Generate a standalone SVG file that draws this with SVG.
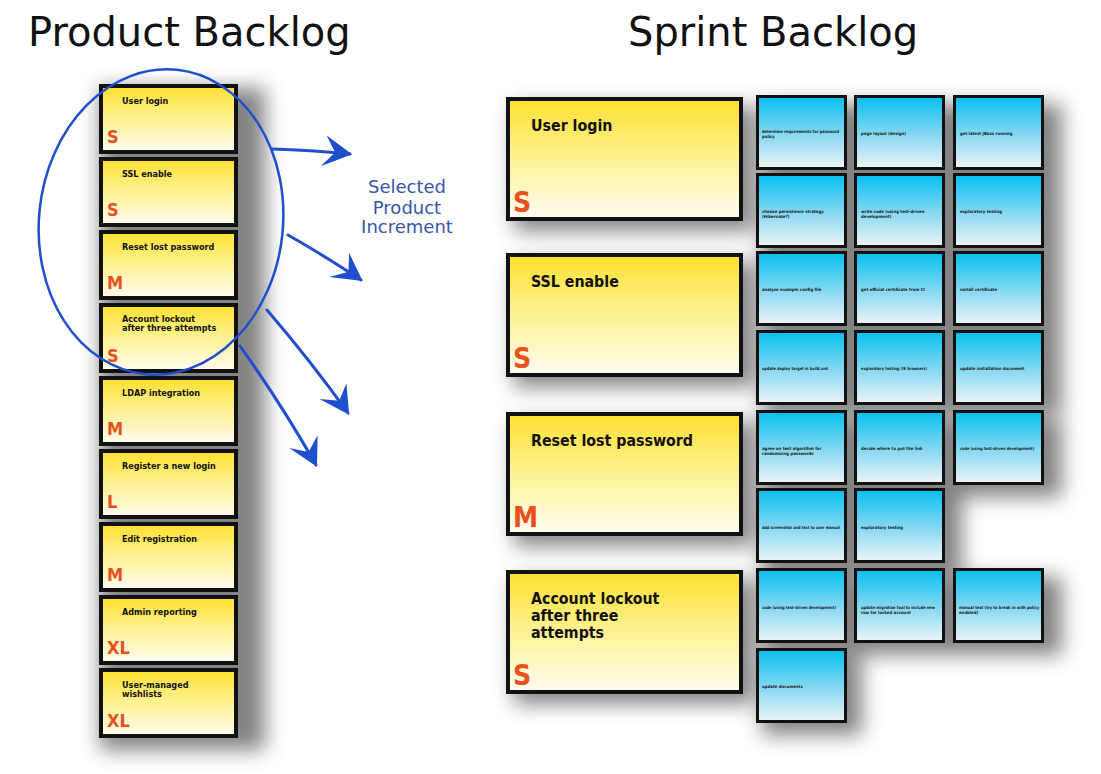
<svg xmlns="http://www.w3.org/2000/svg" width="1101" height="774" viewBox="0 0 1101 774">
<defs>
<linearGradient id="gy" x1="0" y1="0" x2="0" y2="1">
<stop offset="0" stop-color="#ffe02e"/><stop offset="0.45" stop-color="#fff08a"/><stop offset="1" stop-color="#fffcf2"/>
</linearGradient>
<linearGradient id="gb" x1="0" y1="0" x2="0" y2="1">
<stop offset="0" stop-color="#05bff0"/><stop offset="0.55" stop-color="#8ad9f2"/><stop offset="1" stop-color="#eef5f7"/>
</linearGradient>
<filter id="blur" x="-40%" y="-40%" width="180%" height="180%"><feGaussianBlur stdDeviation="10"/></filter>
<marker id="ah" markerUnits="userSpaceOnUse" markerWidth="40" markerHeight="40" viewBox="-32 -20 36 40" refX="0" refY="0" orient="auto">
<path d="M2,0 L-25,-16 L-15,0 L-28,15 Z" fill="#1f4fcc"/>
</marker>
<style>
.title{font-family:"DejaVu Sans",Verdana,sans-serif;font-size:40px;fill:#111}
.card{stroke:#111;stroke-width:4;fill:url(#gy)}
.task{stroke:#111;stroke-width:3;fill:url(#gb)}
.st{font-family:"DejaVu Sans Condensed","DejaVu Sans",sans-serif;font-weight:bold;font-size:9px;fill:#111}
.ss{font-family:"DejaVu Sans Condensed","DejaVu Sans",sans-serif;font-weight:bold;font-size:18px;fill:#e8501e}
.bt{font-family:"DejaVu Sans Condensed","DejaVu Sans",sans-serif;font-weight:bold;font-size:15.8px;fill:#111}
.bs{font-family:"DejaVu Sans Condensed","DejaVu Sans",sans-serif;font-weight:bold;font-size:28px;fill:#e8501e}
.tt{font-family:"DejaVu Sans Condensed","DejaVu Sans",sans-serif;font-weight:bold;font-size:4.3px;fill:#1a1a1a}
.lab{font-family:"DejaVu Sans",Verdana,sans-serif;font-size:18px;fill:#3856a8;text-anchor:middle}
.ln{stroke:#1f4fcc;stroke-width:3;fill:none;stroke-linecap:round}
</style>
</defs>
<rect width="1101" height="774" fill="#ffffff"/>

<text class="title" x="28" y="46">Product Backlog</text>
<text class="title" x="628" y="46">Sprint Backlog</text>

<g id="shadows" filter="url(#blur)" fill="#5a5a5a" opacity="0.75">
<rect x="100" y="88" width="165" height="662"/>
<rect x="514" y="106" width="240" height="125"/>
<rect x="514" y="262" width="240" height="125"/>
<rect x="514" y="421" width="240" height="125"/>
<rect x="514" y="579" width="240" height="125"/>
<rect x="762" y="104" width="300" height="310"/>
<rect x="762" y="419" width="300" height="78"/>
<rect x="762" y="497" width="200" height="78"/>
<rect x="762" y="577" width="300" height="78"/>
<rect x="762" y="657" width="100" height="78"/>
</g>

<g id="pb-1"><rect class="card" x="101" y="86" width="135" height="66"/><text class="st" x="122" y="104">User login</text><text class="ss" x="107" y="143">S</text></g>
<g id="pb-2"><rect class="card" x="101" y="159" width="135" height="66"/><text class="st" x="122" y="177">SSL enable</text><text class="ss" x="107" y="216">S</text></g>
<g id="pb-3"><rect class="card" x="101" y="232" width="135" height="66"/><text class="st" x="122" y="250">Reset lost password</text><text class="ss" x="107" y="289">M</text></g>
<g id="pb-4"><rect class="card" x="101" y="305" width="135" height="66"/><text class="st" x="122" y="322">Account lockout</text><text class="st" x="122" y="331">after three attempts</text><text class="ss" x="107" y="362">S</text></g>
<g id="pb-5"><rect class="card" x="101" y="378" width="135" height="66"/><text class="st" x="122" y="396">LDAP integration</text><text class="ss" x="107" y="435">M</text></g>
<g id="pb-6"><rect class="card" x="101" y="451" width="135" height="66"/><text class="st" x="122" y="469">Register a new login</text><text class="ss" x="107" y="508">L</text></g>
<g id="pb-7"><rect class="card" x="101" y="524" width="135" height="66"/><text class="st" x="122" y="542">Edit registration</text><text class="ss" x="107" y="581">M</text></g>
<g id="pb-8"><rect class="card" x="101" y="597" width="135" height="66"/><text class="st" x="122" y="615">Admin reporting</text><text class="ss" x="107" y="654">XL</text></g>
<g id="pb-9"><rect class="card" x="101" y="670" width="135" height="66"/><text class="st" x="122" y="688">User-managed</text><text class="st" x="122" y="697">wishlists</text><text class="ss" x="107" y="727">XL</text></g>

<g id="selection">
<ellipse cx="161" cy="222" rx="122" ry="153" transform="rotate(6 161 222)" fill="none" stroke="#1f4fcc" stroke-width="2.5"/>
</g>

<g id="connectors">
<path class="ln" d="M272,149 Q310,150 350,154" marker-end="url(#ah)"/>
<path class="ln" d="M288,235 Q325,256 361,280" marker-end="url(#ah)"/>
<path class="ln" d="M267,310 Q310,360 348,413" marker-end="url(#ah)"/>
<path class="ln" d="M240,346 Q282,405 316,465" marker-end="url(#ah)"/>
</g>

<g id="label">
<text class="lab" x="407" y="193">Selected</text>
<text class="lab" x="407" y="214">Product</text>
<text class="lab" x="407" y="233">Increment</text>
</g>

<g id="story-1"><rect class="card" x="508" y="99" width="233" height="120"/><text class="bt" x="531" y="131">User login</text><text class="bs" x="513" y="212">S</text></g>
<g id="story-2"><rect class="card" x="508" y="255" width="233" height="120"/><text class="bt" x="531" y="287">SSL enable</text><text class="bs" x="513" y="368">S</text></g>
<g id="story-3"><rect class="card" x="508" y="414" width="233" height="120"/><text class="bt" x="531" y="446">Reset lost password</text><text class="bs" x="513" y="527">M</text></g>
<g id="story-4"><rect class="card" x="508" y="572" width="233" height="120"/><text class="bt" x="531" y="604">Account lockout</text><text class="bt" x="531" y="621">after three</text><text class="bt" x="531" y="638">attempts</text><text class="bs" x="513" y="685">S</text></g>

<g id="t-1-1"><rect class="task" x="757.5" y="96.5" width="88" height="72"/><text class="tt" x="762" y="133" textLength="77" lengthAdjust="spacingAndGlyphs">determine requirements for password</text><text class="tt" x="762" y="138">policy</text></g>
<g id="t-1-2"><rect class="task" x="855.5" y="96.5" width="88" height="72"/><text class="tt" x="861" y="135">page layout (design)</text></g>
<g id="t-1-3"><rect class="task" x="954.5" y="96.5" width="88" height="72"/><text class="tt" x="960" y="135">get latest JBoss running</text></g>
<g id="t-2-1"><rect class="task" x="757.5" y="174.5" width="88" height="72"/><text class="tt" x="762" y="213">choose persistence strategy</text><text class="tt" x="762" y="218">(Hibernate?)</text></g>
<g id="t-2-2"><rect class="task" x="855.5" y="174.5" width="88" height="72"/><text class="tt" x="861" y="213">write code (using test-driven</text><text class="tt" x="861" y="218">development)</text></g>
<g id="t-2-3"><rect class="task" x="954.5" y="174.5" width="88" height="72"/><text class="tt" x="960" y="213">exploratory testing</text></g>
<g id="t-3-1"><rect class="task" x="757.5" y="252.5" width="88" height="72"/><text class="tt" x="762" y="291">analyze example config file</text></g>
<g id="t-3-2"><rect class="task" x="855.5" y="252.5" width="88" height="72"/><text class="tt" x="861" y="291">get official certificate from CI</text></g>
<g id="t-3-3"><rect class="task" x="954.5" y="252.5" width="88" height="72"/><text class="tt" x="960" y="291">install certificate</text></g>
<g id="t-4-1"><rect class="task" x="757.5" y="331.5" width="88" height="72"/><text class="tt" x="762" y="370" textLength="66" lengthAdjust="spacingAndGlyphs">update deploy target in build.xml</text></g>
<g id="t-4-2"><rect class="task" x="855.5" y="331.5" width="88" height="72"/><text class="tt" x="861" y="370" textLength="66" lengthAdjust="spacingAndGlyphs">exploratory testing (IE browsers)</text></g>
<g id="t-4-3"><rect class="task" x="954.5" y="331.5" width="88" height="72"/><text class="tt" x="960" y="370">update installation document</text></g>
<g id="t-5-1"><rect class="task" x="757.5" y="411.5" width="88" height="72"/><text class="tt" x="762" y="450">agree on test algorithm for</text><text class="tt" x="762" y="455">randomizing passwords</text></g>
<g id="t-5-2"><rect class="task" x="855.5" y="411.5" width="88" height="72"/><text class="tt" x="861" y="450">decide where to put the link</text></g>
<g id="t-5-3"><rect class="task" x="954.5" y="411.5" width="88" height="72"/><text class="tt" x="960" y="450" textLength="74" lengthAdjust="spacingAndGlyphs">code (using test-driven development)</text></g>
<g id="t-6-1"><rect class="task" x="757.5" y="489.5" width="88" height="72"/><text class="tt" x="762" y="529" textLength="78" lengthAdjust="spacingAndGlyphs">add screenshot and text to user manual</text></g>
<g id="t-6-2"><rect class="task" x="855.5" y="489.5" width="88" height="72"/><text class="tt" x="861" y="529">exploratory testing</text></g>
<g id="t-7-1"><rect class="task" x="757.5" y="569.5" width="88" height="72"/><text class="tt" x="762" y="609" textLength="74" lengthAdjust="spacingAndGlyphs">code (using test-driven development)</text></g>
<g id="t-7-2"><rect class="task" x="855.5" y="569.5" width="88" height="72"/><text class="tt" x="861" y="609" textLength="74" lengthAdjust="spacingAndGlyphs">update migration tool to include new</text><text class="tt" x="861" y="614">row for locked account</text></g>
<g id="t-7-3"><rect class="task" x="954.5" y="569.5" width="88" height="72"/><text class="tt" x="959" y="609" textLength="80" lengthAdjust="spacingAndGlyphs">manual test (try to break in with policy</text><text class="tt" x="959" y="614">enabled)</text></g>
<g id="t-8-1"><rect class="task" x="757.5" y="649.5" width="88" height="72"/><text class="tt" x="762" y="688">update documents</text></g>
</svg>
